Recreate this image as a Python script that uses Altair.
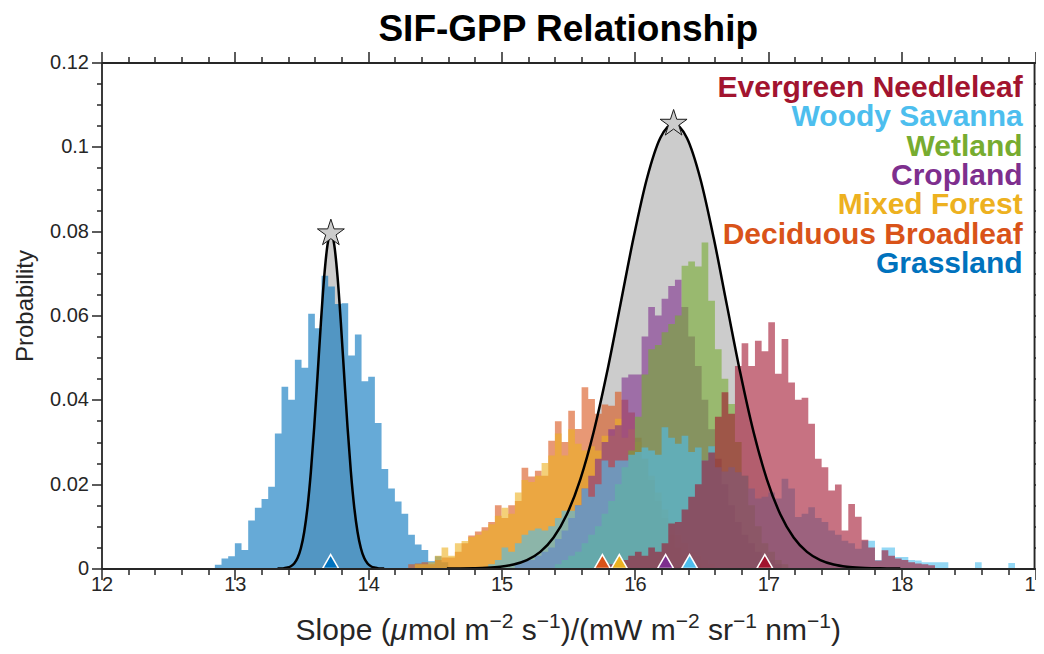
import altair as alt
import pandas as pd

FONT = "Liberation Sans"
AX = "#262626"

# ---------------- data ----------------
legend_names = ["Evergreen Needleleaf", "Woody Savanna", "Wetland", "Cropland",
                "Mixed Forest", "Deciduous Broadleaf", "Grassland"]
legend_colors = ["#A2142F", "#4DBEEE", "#77AC30", "#7E2F8E", "#EDB120", "#D95319", "#0072BD"]

BIN = 0.05  # histogram bin width

grassland_start = 12.85
grassland_prob = [0.0009, 0.0024, 0.0029, 0.006, 0.0044, 0.0114, 0.0144, 0.0165, 0.0194, 0.032,
                  0.0431, 0.040, 0.0495, 0.0476, 0.0604, 0.057, 0.0694, 0.0669, 0.0627, 0.0629,
                  0.0505, 0.0555, 0.0444, 0.0455, 0.0345, 0.0236, 0.019, 0.0159, 0.013, 0.008,
                  0.0057, 0.0044, 0.0017, 0.0029, 0.0015]

decid_start = 14.30
decid_prob = [0.001, 0.0012, 0.0015, 0.001, 0.002, 0.0026, 0.0026, 0.004, 0.006, 0.0078,
              0.0088, 0.0098, 0.011, 0.015, 0.012, 0.015, 0.016, 0.0239, 0.0218, 0.0232,
              0.022, 0.0303, 0.0349, 0.030, 0.0374, 0.0331, 0.043, 0.0402, 0.0367, 0.0389,
              0.0386, 0.0419, 0.040, 0.037, 0.031, 0.026, 0.021, 0.016, 0.012, 0.008,
              0.005, 0.003, 0.002, 0.001]

mixed_start = 14.35
mixed_prob = [0.001, 0.001, 0.0015, 0.003, 0.005, 0.003, 0.006, 0.0065, 0.0075, 0.008,
              0.009, 0.0105, 0.0125, 0.0144, 0.013, 0.018, 0.021, 0.0205, 0.022, 0.025,
              0.0268, 0.032, 0.0268, 0.033, 0.0296, 0.028, 0.029, 0.028, 0.0315, 0.0315,
              0.0355, 0.031, 0.033, 0.030, 0.026, 0.022, 0.018, 0.014, 0.011, 0.008,
              0.006, 0.004, 0.003, 0.002, 0.001]

crop_start = 15.10
crop_prob = [0.001, 0.002, 0.002, 0.003, 0.004, 0.005, 0.007, 0.009, 0.012, 0.015,
             0.019, 0.022, 0.026, 0.030, 0.033, 0.034, 0.0453, 0.046, 0.046, 0.055,
             0.062, 0.060, 0.064, 0.067, 0.0685, 0.062, 0.055, 0.048, 0.040, 0.033,
             0.026, 0.020, 0.015, 0.011, 0.008, 0.006, 0.004, 0.003, 0.002, 0.001]

wetland_start = 15.40
wetland_prob = [0.001, 0.002, 0.003, 0.004, 0.006, 0.008, 0.010, 0.013, 0.016, 0.020,
                0.024, 0.028, 0.036, 0.046, 0.052, 0.053, 0.056, 0.058, 0.060, 0.0718,
                0.0728, 0.0716, 0.0773, 0.0635, 0.052, 0.045, 0.039, 0.030, 0.022, 0.015,
                0.010, 0.006, 0.004, 0.002, 0.001]

woody_start = 14.90
woody_prob = [0.001, 0.002, 0.005, 0.004, 0.006, 0.008, 0.009, 0.0095, 0.009, 0.010,
              0.012, 0.0137, 0.0137, 0.015, 0.019, 0.017, 0.020, 0.0256, 0.024, 0.0256,
              0.0256, 0.027, 0.0276, 0.0287, 0.028, 0.027, 0.0335, 0.031, 0.0296, 0.0315,
              0.0276, 0.0287, 0.0256, 0.029, 0.024, 0.023, 0.024, 0.0228, 0.022, 0.019,
              0.0166, 0.017, 0.018, 0.0166, 0.0213, 0.019, 0.0122, 0.013, 0.0145, 0.012,
              0.011, 0.009, 0.008, 0.0066, 0.006, 0.0047, 0.0066, 0.0066, 0.002, 0.005,
              0.005, 0.0027, 0.0027, 0.002, 0.0019, 0.0015, 0.0015, 0.0015, 0.0015, 0.0,
              0.0, 0.0, 0.0, 0.0015, 0.0, 0.0, 0.0, 0.0, 0.0013]

evergreen_start = 15.80
evergreen_prob = [0.001, 0.002, 0.002, 0.003, 0.004, 0.003, 0.005, 0.004, 0.006, 0.0107,
                  0.011, 0.014, 0.017, 0.020, 0.0256, 0.0275, 0.036, 0.0418, 0.0367, 0.048,
                  0.0534, 0.048, 0.054, 0.0515, 0.0584, 0.0462, 0.0544, 0.0441, 0.040, 0.0405,
                  0.0343, 0.026, 0.024, 0.0185, 0.0199, 0.009, 0.0153, 0.0123, 0.0068, 0.005,
                  0.0019, 0.0043, 0.003, 0.0024, 0.002, 0.0015, 0.0012, 0.001, 0.0008]

# drawing order (first = bottom)
hist_order = [
    ("Grassland", grassland_start, grassland_prob),
    ("Deciduous Broadleaf", decid_start, decid_prob),
    ("Mixed Forest", mixed_start, mixed_prob),
    ("Cropland", crop_start, crop_prob),
    ("Wetland", wetland_start, wetland_prob),
    ("Woody Savanna", woody_start, woody_prob),
    ("Evergreen Needleleaf", evergreen_start, evergreen_prob),
]

# class means (triangles)
mean_names = ["Grassland", "Deciduous Broadleaf", "Mixed Forest", "Cropland",
              "Woody Savanna", "Evergreen Needleleaf"]
mean_values = [13.718, 15.756, 15.883, 16.23, 16.41, 16.974]

# fitted gaussian curves
gauss_small_x = [13.32, 13.345, 13.37, 13.395, 13.42, 13.445, 13.47, 13.495, 13.52, 13.545,
                 13.57, 13.595, 13.62, 13.645, 13.67, 13.695, 13.72, 13.745, 13.77, 13.795,
                 13.82, 13.845, 13.87, 13.895, 13.92, 13.945, 13.97, 13.995, 14.02, 14.045,
                 14.07, 14.095, 14.12]
gauss_small_p = [0.00001, 0.00003, 0.00009, 0.00022, 0.00054, 0.0012, 0.00249, 0.00481, 0.00867,
                 0.01457, 0.0229, 0.0335, 0.0457, 0.0582, 0.0692, 0.0768, 0.0795, 0.0768,
                 0.0692, 0.0582, 0.0457, 0.0335, 0.0229, 0.01457, 0.00867, 0.00481, 0.00249,
                 0.0012, 0.00054, 0.00022, 0.00009, 0.00003, 0.00001]

gauss_big_x = [14.59, 14.69, 14.79, 14.89, 14.99, 15.09, 15.19, 15.29, 15.39, 15.49, 15.59,
               15.69, 15.79, 15.89, 15.99, 16.09, 16.19, 16.29, 16.39, 16.49, 16.59, 16.69,
               16.79, 16.89, 16.99, 17.09, 17.19, 17.29, 17.39, 17.49, 17.59, 17.69, 17.79,
               17.89, 17.99]
gauss_big_p = [0.0, 0.00002, 0.00007, 0.00017, 0.00041, 0.00093, 0.00198, 0.00394, 0.00736,
               0.01287, 0.0211, 0.0323, 0.0464, 0.0624, 0.0785, 0.0925, 0.1021, 0.1055,
               0.1021, 0.0925, 0.0785, 0.0624, 0.0464, 0.0323, 0.0211, 0.01287, 0.00736,
               0.00394, 0.00198, 0.00093, 0.00041, 0.00017, 0.00007, 0.00002, 0.0]

star_x = [13.72, 16.29]
star_p = [0.0795, 0.1055]

# axis ticks
x_ticks = [round(12 + 0.2 * i, 1) for i in range(36)]
y_ticks = [round(0.005 * i, 3) for i in range(25)]

# x-axis title pieces: (text, superscript?, italic?)
x_title_parts = [("Slope (", False, False), ("\u03bc", False, True), ("mol m", False, False),
                 ("\u22122", True, False), (" s", False, False), ("\u22121", True, False),
                 (")/(mW m", False, False), ("\u22122", True, False), (" sr", False, False),
                 ("\u22121", True, False), (" nm", False, False), ("\u22121", True, False),
                 (")", False, False)]

# ---------------- layout ----------------
W, H = 933.5, 506
TITLE_FS, SUP_FS = 30, 21
EM = {"S": .667, "l": .222, "o": .556, "p": .556, "e": .556, " ": .278, "(": .333, ")": .333,
      "\u03bc": .576, "m": .833, "/": .278, "W": .944, "s": .5, "r": .333, "n": .556,
      "\u2212": .584, "1": .556, "2": .556}

xs = alt.Scale(domain=[12, 19], nice=False, zero=False)
ys = alt.Scale(domain=[0, 0.12], nice=False)

x_major = "abs(datum.value - round(datum.value)) < 1e-6"
y_major = "abs(datum.value * 50 - round(datum.value * 50)) < 1e-6"

common = dict(tickColor=AX, tickWidth=1.5, domainColor=AX, domainWidth=1.8, grid=False,
              zindex=1, labelFont=FONT, labelColor=AX, labelFontSize=20)

x_bottom = alt.Axis(orient="bottom", values=x_ticks,
                    tickSize={"condition": {"test": x_major, "value": 11}, "value": 6},
                    labelExpr=f"{x_major} ? format(datum.value, 'd') : ''",
                    labelOverlap=False, labelFlush=False, labelPadding=-5,
                    title=None, **common)
x_top = alt.Axis(orient="top", values=x_ticks,
                 tickSize={"condition": {"test": x_major, "value": 11}, "value": 6},
                 labels=False, title=None, **common)
y_left = alt.Axis(orient="left", values=y_ticks,
                  tickSize={"condition": {"test": y_major, "value": 10}, "value": 5},
                  labelExpr=f"{y_major} ? format(datum.value, '.2~f') : ''",
                  labelOverlap=False, labelFlush=False, labelPadding=3,
                  title="Probability", titleFont=FONT, titleFontSize=24, titleFontWeight="normal",
                  titleColor=AX, titleX=-76, titleY=243, titleAngle=-90, titleAlign="center",
                  titleBaseline="middle", **common)
y_right = alt.Axis(orient="right", values=y_ticks, offset=-1,
                   tickSize={"condition": {"test": y_major, "value": 10}, "value": 5},
                   labels=False, title=None, **common)

small_df = pd.DataFrame({"x": gauss_small_x, "p": gauss_small_p})
big_df = pd.DataFrame({"x": gauss_big_x, "p": gauss_big_p})

fill_small = alt.Chart(small_df).mark_area(color="#CCCCCC", interpolate="monotone", opacity=1).encode(
    x=alt.X("x:Q", scale=xs, axis=x_bottom),
    y=alt.Y("p:Q", scale=ys, axis=y_left),
)
fill_big = alt.Chart(big_df).mark_area(color="#CCCCCC", interpolate="monotone", opacity=1).encode(
    x=alt.X("x:Q", scale=xs, axis=None),
    y=alt.Y("p:Q", scale=ys, axis=None),
)

color_of = dict(zip(legend_names, legend_colors))
hist_layers = []
for name, start, vals in hist_order:
    xsv = [start + BIN * i for i in range(len(vals) + 1)]
    psv = list(vals) + [0.0]
    df = pd.DataFrame({"x": xsv, "p": psv})
    hist_layers.append(
        alt.Chart(df).mark_area(interpolate="step-after", color=color_of[name], opacity=0.6,
                                orient="vertical").encode(
            x=alt.X("x:Q", scale=xs, axis=None),
            y=alt.Y("p:Q", scale=ys, axis=None, stack=None),
        )
    )

line_small = alt.Chart(small_df).mark_line(color="black", strokeWidth=2.5, interpolate="monotone").encode(
    x=alt.X("x:Q", scale=xs, axis=None),
    y=alt.Y("p:Q", scale=ys, axis=None),
)
line_big = alt.Chart(big_df).mark_line(color="black", strokeWidth=2.5, interpolate="monotone").encode(
    x=alt.X("x:Q", scale=xs, axis=x_top),
    y=alt.Y("p:Q", scale=ys, axis=y_right),
)

STAR = ("M0,-1L0.2245,-0.309L0.951,-0.309L0.3633,0.118L0.588,0.809L0,0.382"
        "L-0.588,0.809L-0.3633,0.118L-0.951,-0.309L-0.2245,-0.309Z")
stars = alt.Chart(pd.DataFrame({"x": star_x, "p": star_p})).mark_point(
    shape=STAR, size=800, filled=True, fill="#CCCCCC", stroke="#1a1a1a", strokeWidth=1, opacity=1
).encode(
    x=alt.X("x:Q", scale=xs, axis=None),
    y=alt.Y("p:Q", scale=ys, axis=None),
)

TRI = "M-1,0L1,0L0,-1.73Z"
tri_df = pd.DataFrame({"name": mean_names, "x": mean_values, "p": [0.0] * len(mean_names)})
triangles = alt.Chart(tri_df).mark_point(
    shape=TRI, size=260, filled=True, stroke="white", strokeWidth=1.5, opacity=1
).encode(
    x=alt.X("x:Q", scale=xs, axis=None),
    y=alt.Y("p:Q", scale=ys, axis=None),
    fill=alt.Fill("name:N", scale=alt.Scale(domain=legend_names, range=legend_colors), legend=None),
)

legend_layers = []
for k, (name, col) in enumerate(zip(legend_names, legend_colors)):
    legend_layers.append(
        alt.Chart(pd.DataFrame({"name": [name]})).mark_text(
            align="right", baseline="alphabetic", font=FONT, fontSize=30, fontWeight="bold",
            color=col
        ).encode(
            x=alt.value(W - 12.3),
            y=alt.value(34.2 + 29.4 * k),
            text="name:N",
        )
    )

# x-axis title with superscripts, laid out piece by piece
def piece_width(txt, sup):
    return sum(EM.get(c, 0.556) for c in txt) * (SUP_FS if sup else TITLE_FS)

total_w = sum(piece_width(t, s) for t, s, _ in x_title_parts)
cursor = W / 2 - total_w / 2
title_layers = []
for txt, sup, ital in x_title_parts:
    shown = txt.lstrip(" ")
    lead = piece_width(txt[: len(txt) - len(shown)], sup)  # SVG drops leading spaces
    title_layers.append(
        alt.Chart(pd.DataFrame({"t": [shown]})).mark_text(
            align="left", baseline="alphabetic", font=FONT,
            fontSize=SUP_FS if sup else TITLE_FS, fontStyle="italic" if ital else "normal",
            color=AX
        ).encode(
            x=alt.value(cursor + lead),
            y=alt.value(H + (59.5 if sup else 71.5)),
            text="t:N",
        )
    )
    cursor += piece_width(txt, sup)

chart = alt.layer(
    fill_small, fill_big, *hist_layers, line_small, line_big, stars, triangles,
    *legend_layers, *title_layers
).resolve_axis(
    x="independent", y="independent"
).properties(
    width=W, height=H,
    title=alt.Title("SIF-GPP Relationship", font=FONT, fontSize=37, fontWeight="bold",
                    color="black", anchor="middle", offset=2),
    padding={"left": 93.5, "top": 54.5, "right": 1, "bottom": 77.5},
    autosize=alt.AutoSizeParams(type="none"),
).configure_view(stroke=None).configure(background="white")

chart.save("out.html", embed_options={"renderer": "svg", "actions": False})
